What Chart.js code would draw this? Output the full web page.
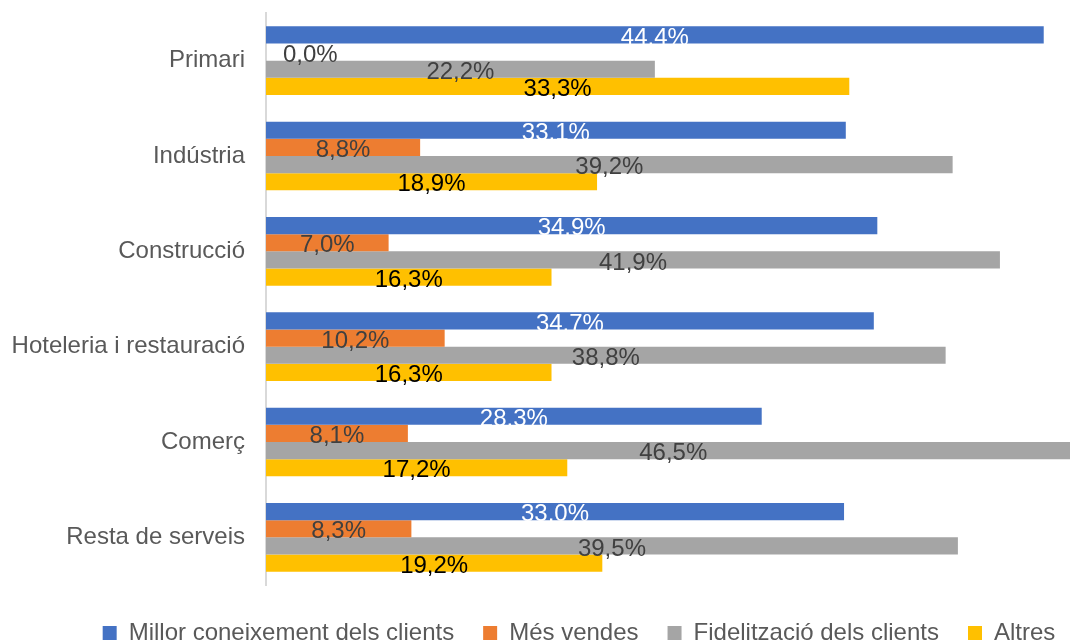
<!DOCTYPE html>
<html>
<head>
<meta charset="utf-8">
<script src="https://cdn.jsdelivr.net/npm/chart.js@4/dist/chart.umd.min.js"></script>
<style>
    html, body { margin: 0; padding: 0; background: #fff; }
    #wrap { width: 1070px; height: 642px; }
</style>
</head>
<body>
<div id="wrap"><canvas id="chart"></canvas></div>
<script>
// Data
const sectors = ['Primari', 'Indústria', 'Construcció', 'Hoteleria i restauració', 'Comerç', 'Resta de serveis'];
const seriesNames = ['Millor coneixement dels clients', 'Més vendes', 'Fidelització dels clients', 'Altres'];
const millorConeixement = [44.4, 33.1, 34.9, 34.7, 28.3, 33.0];
const mesVendes = [0.0, 8.8, 7.0, 10.2, 8.1, 8.3];
const fidelitzacio = [22.2, 39.2, 41.9, 38.8, 46.5, 39.5];
const altres = [33.3, 18.9, 16.3, 16.3, 17.2, 19.2];

const barColors = ['#4472C4', '#ED7D31', '#A5A5A5', '#FFC000'];
const labelColors = ['#ffffff', '#404040', '#404040', '#000000'];
const FONT = '"Liberation Sans", Arial, sans-serif';
const FONT_SIZE = 24;

// Value labels drawn in the middle of each bar
const barLabels = {
    id: 'barLabels',
    afterDatasetsDraw(chart) {
        const ctx = chart.ctx;
        const xScale = chart.scales.x;
        ctx.save();
        ctx.font = FONT_SIZE + 'px ' + FONT;
        ctx.textBaseline = 'middle';
        chart.data.datasets.forEach((ds, i) => {
            const meta = chart.getDatasetMeta(i);
            meta.data.forEach((bar, j) => {
                const v = ds.data[j];
                const text = v.toFixed(1).replace('.', ',') + '%';
                ctx.fillStyle = labelColors[i];
                if (v === 0) {
                    ctx.textAlign = 'left';
                    ctx.fillText(text, xScale.getPixelForValue(0) + 17, bar.y + 3);
                } else {
                    ctx.textAlign = 'center';
                    ctx.fillText(text, xScale.getPixelForValue(v / 2), bar.y + 3);
                }
            });
        });
        ctx.restore();
    }
};

// legend: a bit lower and right of centre, less room above it
const legendTweak = {
    id: 'legendTweak',
    beforeLayout(chart) {
        const lg = chart.legend;
        if (lg && !lg._tweaked) {
            const fit = lg.fit.bind(lg);
            lg.fit = function () {
                fit();
                this.height -= 6;
            };
            lg._tweaked = true;
        }
    },
    afterLayout(chart) {
        const lg = chart.legend;
        lg.left += 44;
        lg.right += 44;
        lg.top += 7;
        lg.bottom += 7;
    }
};

const ctx = document.getElementById('chart').getContext('2d');
new Chart(ctx, {
    type: 'bar',
    data: {
        labels: sectors,
        datasets: [millorConeixement, mesVendes, fidelitzacio, altres].map((d, i) => ({
            label: seriesNames[i],
            data: d,
            backgroundColor: barColors[i],
            borderWidth: 0,
            categoryPercentage: 0.72,
            barPercentage: 1.0
        }))
    },
    options: {
        indexAxis: 'y',
        responsive: true,
        maintainAspectRatio: false,
        animation: false,
        layout: { padding: { top: 13, right: 0, left: 0, bottom: 0 } },
        scales: {
            x: {
                display: false,
                min: 0,
                max: 45.9
            },
            y: {
                grid: { display: false, drawTicks: false },
                border: { display: true, color: '#d9d9d9', width: 2 },
                ticks: {
                    color: '#595959',
                    font: { size: FONT_SIZE, family: FONT },
                    padding: 21
                },
                afterFit(scale) {
                    scale.width = 266;
                    scale.paddingTop = 0;
                    scale.paddingBottom = 0;
                }
            }
        },
        plugins: {
            legend: {
                position: 'bottom',
                labels: {
                    color: '#595959',
                    font: { size: FONT_SIZE, family: FONT },
                    boxWidth: 14,
                    boxHeight: 14,
                    padding: 29
                }
            },
            tooltip: { enabled: false }
        }
    },
    plugins: [barLabels, legendTweak]
});
</script>
</body>
</html>
